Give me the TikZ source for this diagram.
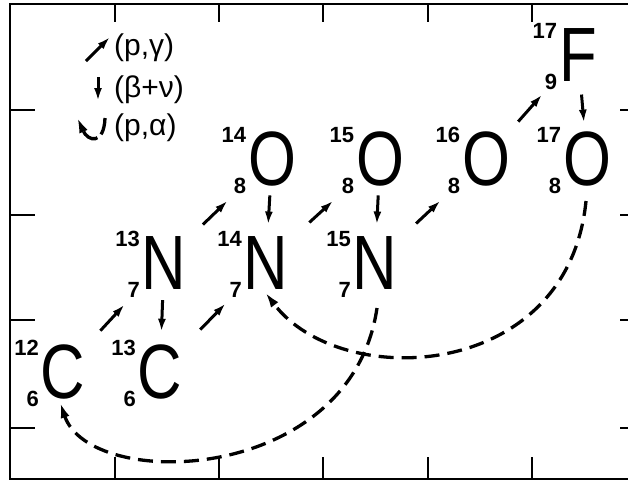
\documentclass[tikz,border=0pt]{standalone}
\usepackage{fontspec}
\setmainfont{Liberation Sans}
\usepackage{graphicx}
\usetikzlibrary{arrows.meta,calc}

\newcommand{\bigfont}{\fontsize{77}{77}\selectfont}
\newcommand{\numfont}{\fontsize{22}{22}\selectfont\bfseries}
\newcommand{\isot}[3]{%
  \llap{\numfont\raisebox{43pt}{#1}\kern2pt}%
  \llap{\numfont\raisebox{-8pt}{#2}\kern2pt}%
  \scalebox{0.8}[1]{#3}}

\begin{document}
\begin{tikzpicture}[
  x=1pt, y=-1pt,
  nuc/.style={inner sep=0pt, text height=55pt, text depth=0pt, font=\bigfont},
  legend/.style={anchor=west, inner sep=0pt, font=\fontsize{30}{30}\selectfont},
  frame/.style={line width=2.8pt},
  tk/.style={line width=2.6pt},
  arr/.style={-{Latex[length=13pt,width=8pt]}, line width=3pt},
  darr/.style={-{Latex[length=16pt,width=9pt]}, line width=3.3pt, dash pattern=on 15pt off 8pt}
]
\useasboundingbox (0,0) rectangle (628,482);

% frame and ticks
\draw[frame] (10,4) rectangle (646,479);
\foreach \x in {115,219,323,428,532} {
  \draw[tk] (\x,4) -- (\x,22);
  \draw[tk] (\x,479) -- (\x,457);
}
\foreach \y in {110,215,320,428} {
  \draw[tk] (10,\y) -- (35,\y);
  \draw[tk] (646,\y) -- (620,\y);
}

% nuclei
\node[nuc] (c12) at (63,371) {\isot{12}{6}{C}};
\node[nuc] (c13) at (160,371) {\isot{13}{6}{C}};
\node[nuc] (n13) at (164,262) {\isot{13}{7}{N}};
\node[nuc] (n14) at (266,262) {\isot{14}{7}{N}};
\node[nuc] (n15) at (375,262) {\isot{15}{7}{N}};
\node[nuc] (o14) at (272,158) {\isot{14}{8}{O}};
\node[nuc] (o15) at (380,158) {\isot{15}{8}{O}};
\node[nuc] (o16) at (486,158) {\isot{16}{8}{O}};
\node[nuc] (o17) at (587,158) {\isot{17}{8}{O}};
\node[nuc] (f17) at (578,54) {\isot{17}{9}{F}};

% (p,gamma)
\draw[arr] ($(c12)!.37!(n13)$) -- ($(c12)!.61!(n13)$);
\draw[arr] ($(c13)!.38!(n14)$) -- ($(c13)!.62!(n14)$);
\draw[arr] ($(n13)!.36!(o14)$) -- ($(n13)!.59!(o14)$);
\draw[arr] ($(n14)!.38!(o15)$) -- ($(n14)!.59!(o15)$);
\draw[arr] ($(n15)!.37!(o16)$) -- ($(n15)!.59!(o16)$);
\draw[arr] ($(o16)!.35!(f17)$) -- ($(o16)!.61!(f17)$);
% beta decays
\draw[arr] ($(n13)!.35!(c13)$) -- ($(n13)!.64!(c13)$);
\draw[arr] ($(o14)!.36!(n14)$) -- ($(o14)!.64!(n14)$);
\draw[arr] ($(o15)!.36!(n15)$) -- ($(o15)!.64!(n15)$);
\draw[arr] ($(f17)!.39!(o17)$) -- ($(f17)!.66!(o17)$);
% (p,alpha)
\draw[darr] ($(n15)+(2,46)$) .. controls +(-26,177) and +(30,90) .. ($(c12)+(-3,31)$);
\draw[darr] ($(o17)+(-1,43)$) .. controls +(-18,181) and +(75,100) .. ($(n14)+(-1,30)$);

% legend
\node[legend] (lgpg) at (114,48) {(p,γ)};
\node[legend] (lgbv) at (114,90) {(β+ν)};
\node[legend] (lgpa) at (114,128) {(p,α)};
\draw[arr] ($(lgpg.west)+(-28,13)$) -- ($(lgpg.west)+(-4,-11)$);
\draw[arr] ($(lgbv.west)+(-16,-13)$) -- ($(lgbv.west)+(-16,11)$);
\draw[darr, dash pattern=on 17pt off 5pt] ($(lgpa.west)+(-9,-10)$) .. controls +(-1,27) and +(11,25) .. ($(lgpa.west)+(-37,-11)$);
\end{tikzpicture}
\end{document}
